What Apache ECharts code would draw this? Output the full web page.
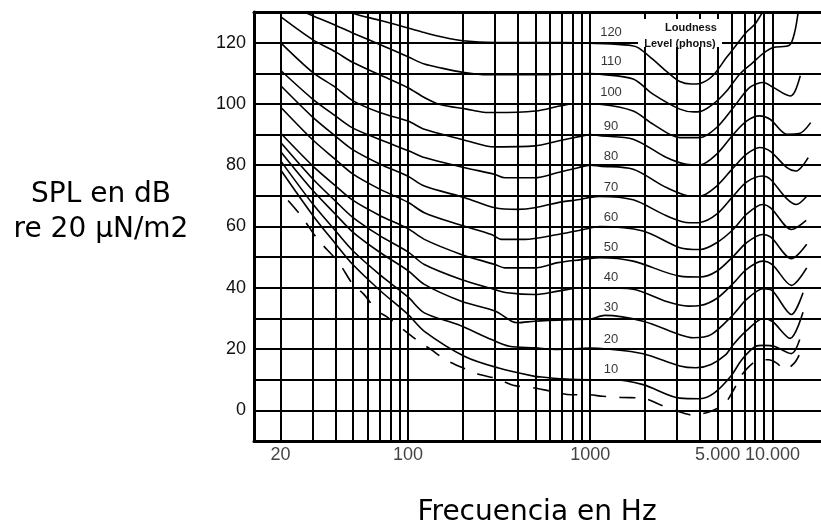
<!DOCTYPE html>
<html><head><meta charset="utf-8">
<script src="https://cdn.jsdelivr.net/npm/echarts@6/dist/echarts.min.js"></script>
<style>html,body{margin:0;padding:0;background:#fff}#c{width:821px;height:526px}</style>
</head><body><div id="c"></div>
<script>
// ---- grid / tick data ----
const gridFreqs = [20,30,40,50,60,70,80,90,100,200,300,400,500,600,700,800,900,1000,2000,3000,4000,5000,6000,7000,8000,9000,10000];
const xTickFreqs = [20,100,1000,5000,10000];
const xTickLabels = ['20','100','1000','5.000','10.000'];
const yTickValues = [0,20,40,60,80,100,120];
const phonLevels = [10,20,30,40,50,60,70,80,90,100,110,120];
const phonLabelFreq = 1300;
const phonLabelDb = [13.3,23.1,33.5,43.5,53.3,62.9,72.7,83,92.8,103.7,114,123.4];

// ---- equal loudness contours [Hz, dB SPL] ----
const phon120 = [[45,131.5],[50,129.6],[70,127.3],[100,124.8],[123,123.3],[150,122],[200,120.6],[300,120],[500,120],[700,120],[1000,119.8],[1300,119.6],[1700,119],[1850,118.2],[2200,114.6],[2600,110.8],[3100,107.3],[3600,106.5],[4000,106.7],[4700,109.2],[5600,115.2],[6100,118],[7200,123.5],[8000,126],[8800,129.8],[9300,131.5]];
const phon110 = [[27,130],[30,128.8],[40,125.7],[50,123.1],[70,119.4],[100,115.4],[123,113],[150,111.8],[200,110.3],[250,109.6],[300,109.5],[500,109.5],[700,109.7],[1000,109.9],[1130,109.7],[1720,108.1],[2210,103.2],[3100,98.3],[3700,97.4],[4000,97.5],[4720,99.9],[5600,104.2],[6600,109.7],[7800,113.5],[8900,116.5],[10100,118.4],[12400,119.2],[13300,124],[13900,130.5],[14200,132]];
const phon100 = [[20,128.5],[30,121],[40,117],[50,113.5],[70,109.5],[100,105.3],[123,102.1],[150,99.8],[210,98.3],[260,97.3],[300,97.2],[500,97.7],[680,99.3],[800,100],[1000,100],[1130,99.9],[1720,97.7],[2210,93.4],[3100,89],[4000,89],[4940,92.3],[6100,98.8],[7500,105.4],[8900,107],[10100,105.4],[12500,102.6],[13300,104.2],[14200,109.2]];
const phon90 = [[20,120],[30,110.3],[40,105.4],[50,101],[70,97.2],[100,94.4],[123,91.7],[196,88.5],[269,86.3],[305,86],[496,86.3],[665,87.9],[895,89.5],[1000,90],[1130,89.6],[1720,88.5],[2620,82.5],[3370,80.3],[4000,80.1],[4940,83.6],[6100,90.1],[7200,94.4],[8500,96.1],[9700,95],[12000,90.1],[14000,90.3],[16200,93.9]];
const phon80 = [[20,111],[30,101.6],[40,96.1],[50,92.1],[70,88.4],[100,84.8],[123,82.5],[205,79.2],[300,77],[340,75.9],[496,75.9],[665,77.6],[857,79.2],[1000,80],[1130,79.7],[1720,78.7],[2620,72.7],[3600,69.9],[4000,69.9],[4940,73.2],[6100,79.2],[7200,83.6],[8500,85.8],[9700,84.6],[12000,79.2],[13400,78.1],[15700,82.5]];
const phon70 = [[20,106],[30,95.7],[40,89.5],[50,85],[70,80.4],[100,76.4],[123,73.2],[205,69.4],[300,66.1],[401,65.6],[496,66.1],[665,67.8],[895,68.9],[1000,69.5],[1130,69.8],[1720,68.7],[2620,63.5],[3500,61.2],[4000,61.3],[4940,64],[6100,70],[7200,74.5],[8800,76.5],[9700,75.5],[12000,69],[13500,67.2],[15400,69.9]];
const phon60 = [[20,99],[30,88.3],[40,81.9],[50,77.1],[70,72.2],[100,67.9],[123,64.5],[188,60.7],[287,57.4],[325,55.8],[437,55.8],[665,57.4],[933,59.1],[1000,59.5],[1130,60],[1950,58.5],[3100,53.1],[4000,52.5],[4940,54.7],[6100,59.1],[7200,64],[8800,67.2],[9800,66],[12700,59],[15300,62]];
const phon50 = [[20,90.5],[30,79.8],[40,73.3],[50,68.5],[70,63.6],[100,59.3],[123,55.8],[196,50.9],[300,47.6],[340,46.5],[496,46.5],[665,48.2],[895,49.2],[1000,49.6],[1130,49.8],[1720,48.7],[3100,43.8],[4000,43.5],[4940,45.4],[6100,50.3],[7200,54.7],[8800,57.4],[9800,56.5],[12700,49.5],[15400,54.2]];
const phon40 = [[20,87.5],[30,75.6],[40,68.3],[50,62.9],[70,57],[100,51.7],[123,47.6],[196,42.7],[300,39.4],[350,38.4],[496,37.8],[665,38.9],[895,40],[1130,40],[1720,39.5],[2620,35.5],[3450,34],[4000,34.2],[4940,36.5],[6100,41.5],[7200,46],[8800,48.7],[10000,47.5],[12700,40.8],[15400,46.5]];
const phon30 = [[20,84.5],[30,71.8],[40,64],[50,58.1],[70,51.6],[100,45.6],[123,41.1],[196,35.6],[300,32.4],[370,29.1],[401,28.6],[496,29.1],[760,29.6],[1000,29.8],[1200,31],[1950,29.1],[3100,24.7],[3670,23.7],[4600,24.7],[6100,31.3],[7200,36.2],[8900,39.7],[10000,39],[12700,31.3],[14700,38.4]];
const phon20 = [[20,81.5],[30,67.4],[40,58.6],[50,52],[70,44.3],[100,37],[123,31.8],[188,28],[287,23.1],[360,20.9],[496,20.4],[665,19.9],[1000,20.3],[1200,20.1],[1950,18.5],[3100,14.5],[3800,13.9],[4600,15],[5500,18],[6100,21.5],[7200,26],[8900,30],[10000,29],[12500,23.5],[14700,32]];
const phon10 = [[20,78.5],[30,63.7],[40,54.4],[50,47.5],[70,39.2],[100,31.3],[123,25.8],[205,17.6],[311,13.9],[496,11.1],[560,10.8],[700,10.3],[1000,10],[1330,10],[1950,8.4],[3100,4],[4000,3.8],[4800,5.7],[5900,11.1],[6800,16.6],[8100,20.9],[8900,21.2],[10200,20.9],[12700,18.5],[14100,23.1]];
const threshold = [[22,68.5],[26,63.4],[32,55.8],[41.5,48.4],[50,41],[57,38],[68,32.4],[76,30.7],[97,25.8],[111,23.1],[134,19.8],[160,16.6],[205,13.6],[247,11.7],[305,10.4],[377,8.2],[496,7.3],[612,6.2],[790,5.1],[970,5.1],[1170,4.6],[1480,4.2],[1950,4],[2400,1.9],[3100,-0.5],[3600,-1.5],[4600,-0.3],[5500,2.4],[6200,7.3],[6600,10.6],[7500,14.5],[8500,16.5],[9500,16.5],[10500,15.5],[11700,13.3],[13200,15.5],[14000,18]];

const curves = [phon120,phon110,phon100,phon90,phon80,phon70,phon60,phon50,phon40,phon30,phon20,phon10];

const chart = echarts.init(document.getElementById('c'), null, {renderer:'canvas'});
const curveSeries = curves.map(d => ({
  type:'line', data:d, showSymbol:false, symbol:'none', smooth:0.3, z:4,
  lineStyle:{color:'#000', width:1.6}, silent:true
}));
curveSeries.push({
  type:'line', data:threshold, showSymbol:false, symbol:'none', smooth:0.3, z:4,
  lineStyle:{color:'#000', width:1.6, type:[16,13]}, silent:true
});

const xBase = {type:'log', logBase:10, min:14.3, max:18450,
  axisTick:{show:false}, axisLabel:{show:false}, splitLine:{show:false}};

const option = {
  animation:false,
  backgroundColor:'#fff',
  grid:{left:254, right:0, top:12, bottom:85, show:false},
  xAxis:[
    Object.assign({}, xBase, {position:'bottom', axisLine:{show:true, onZero:false, lineStyle:{color:'#000', width:3}}}),
    Object.assign({}, xBase, {position:'top', axisLine:{show:true, onZero:false, lineStyle:{color:'#000', width:3}}})
  ],
  yAxis:{type:'value', min:-10, max:130, interval:10,
    axisLine:{show:true, onZero:false, lineStyle:{color:'#000', width:3}}, axisTick:{show:false},
    splitLine:{show:true, lineStyle:{color:'#000', width:2}},
    axisLabel:{formatter:v => yTickValues.includes(v) ? String(v) : '', fontSize:18, color:'#111', margin:8, fontFamily:'Liberation Sans'}},
  series:[
    {type:'line', data:[], silent:true, z:1,
     markLine:{silent:true, symbol:'none', animation:false, label:{show:false},
       lineStyle:{color:'#000', width:2, type:'solid'},
       data:gridFreqs.map(f => ({xAxis:f}))}},
    ...curveSeries,
    {type:'scatter', data:phonLevels.map((p,i) => [phonLabelFreq, phonLabelDb[i]]), symbolSize:1, z:6,
     itemStyle:{color:'rgba(0,0,0,0)'}, silent:true,
     label:{show:true, position:'inside', color:'#000', fontSize:13, fontFamily:'Liberation Sans',
       formatter:p => String(phonLevels[p.dataIndex])}},
    {type:'scatter', data:xTickFreqs.map(f => [f,-10]), symbolSize:1, clip:false, z:6,
     itemStyle:{color:'rgba(0,0,0,0)'}, silent:true,
     label:{show:true, position:'bottom', distance:5, color:'#111', fontSize:18, fontFamily:'Liberation Sans',
       formatter:p => xTickLabels[p.dataIndex]}}
  ],
  graphic:[
    {type:'rect', z:10, shape:{x:638, y:19, width:84, height:28}, style:{fill:'#fff'}},
    {type:'text', z:11, style:{text:'Loudness', x:691, y:28, textAlign:'center', verticalAlign:'middle', font:'bold 11px "Liberation Sans"', fill:'#111'}},
    {type:'text', z:11, style:{text:'Level (phons)', x:680, y:44, textAlign:'center', verticalAlign:'middle', font:'bold 11px "Liberation Sans"', fill:'#111'}},
    {type:'text', z:11, style:{text:'SPL en dB\nre 20 \u03bcN/m2', x:101, y:212, textAlign:'center', verticalAlign:'middle', font:'28px "DejaVu Sans"', lineHeight:35, fill:'#000'}},
    {type:'text', z:11, style:{text:'Frecuencia en Hz', x:537, y:513, textAlign:'center', verticalAlign:'middle', font:'28px "DejaVu Sans"', fill:'#000'}}
  ]
};
chart.setOption(option);
</script></body></html>
